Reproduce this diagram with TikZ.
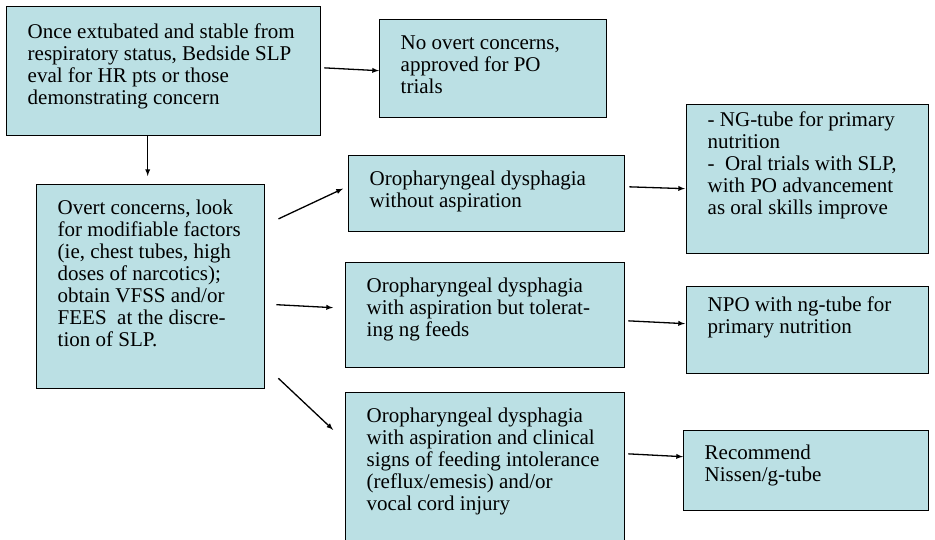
\documentclass[tikz,border=0pt]{standalone}
\usepackage{fontspec}
\setmainfont{Liberation Serif}
\definecolor{boxfill}{RGB}{187,224,228}
\newcommand{\boxtext}[4]{\parbox[t][#2][t]{#1}{\vspace*{#3}\hspace*{21pt}\begin{tabular}[t]{@{}l@{}}#4\end{tabular}}}

\begin{document}
\begin{tikzpicture}[x=1pt, y=-1pt,
        stepbox/.style={draw=black, line width=1.4pt, fill=boxfill, inner sep=0pt, anchor=north west, font=\fontsize{21}{22}\selectfont},
        arr/.style={line width=1.3pt, -latex}]
        \clip (0,0) rectangle (935,539);

        \node[stepbox] (extub) at (6,6) {\boxtext{314pt}{129pt}{16.5pt}{Once extubated and stable from\\respiratory status, Bedside SLP\\eval for HR pts or those\\demonstrating concern}};
        \node[stepbox] (noconc) at (379,19) {\boxtext{227pt}{98pt}{14.5pt}{No overt concerns,\\approved for PO\\trials}};
        \node[stepbox] (overt) at (36,184) {\boxtext{228pt}{204pt}{14.5pt}{Overt concerns, look\\for modifiable factors\\(ie, chest tubes, high\\doses of narcotics);\\obtain VFSS and/or\\FEES\ \ at the discre-\\tion of SLP.}};
        \node[stepbox] (noasp) at (348,155) {\boxtext{276pt}{76pt}{14.5pt}{Oropharyngeal dysphagia\\without aspiration}};
        \node[stepbox] (aspng) at (345,262) {\boxtext{279pt}{105pt}{14.5pt}{Oropharyngeal dysphagia\\with aspiration but tolerat-\\ing ng feeds}};
        \node[stepbox] (aspsign) at (345,392) {\boxtext{279pt}{155pt}{14.5pt}{Oropharyngeal dysphagia\\with aspiration and clinical\\signs of feeding intolerance\\(reflux/emesis) and/or\\vocal cord injury}};
        \node[stepbox] (ngtube) at (686,104) {\boxtext{242pt}{149pt}{6.5pt}{- NG-tube for primary\\nutrition\\-\ \ Oral trials with SLP,\\with PO advancement\\as oral skills improve}};
        \node[stepbox] (npo) at (686,286) {\boxtext{242pt}{87pt}{9.5pt}{NPO with ng-tube for\\primary nutrition}};
        \node[stepbox] (nissen) at (683,430) {\boxtext{245pt}{80pt}{13.5pt}{Recommend\\Nissen/g-tube}};

        \draw[arr, shorten <=3pt] ([yshift=3.5pt]extub.east) -- ([yshift=-2pt]noconc.west);
        \draw[arr, shorten >=8pt] ([xshift=-3pt]overt.north |- extub.south) -- ([xshift=-3pt]overt.north);
        \draw[arr, shorten <=14.4pt, shorten >=5.5pt] ([yshift=-41pt]overt.north east) -- ([yshift=7.4pt]noasp.west);
        \draw[arr, shorten <=11pt, shorten >=12pt] ([yshift=-17.4pt]overt.east) -- ([yshift=6.9pt]aspng.west);
        \draw[arr, shorten <=17.7pt, shorten >=16.3pt] ([yshift=23.3pt]overt.south east) -- ([yshift=-49pt]aspsign.north west);
        \draw[arr, shorten <=4pt, shorten >=1pt] ([yshift=7pt]noasp.east) -- ([yshift=-9.5pt]ngtube.west);
        \draw[arr, shorten <=3pt, shorten >=1pt] ([yshift=-5.5pt]aspng.east) -- ([yshift=6.5pt]npo.west);
        \draw[arr, shorten <=3pt] ([yshift=16.5pt]aspsign.east) -- ([yshift=14pt]nissen.west);
    \end{tikzpicture}
\end{document}
